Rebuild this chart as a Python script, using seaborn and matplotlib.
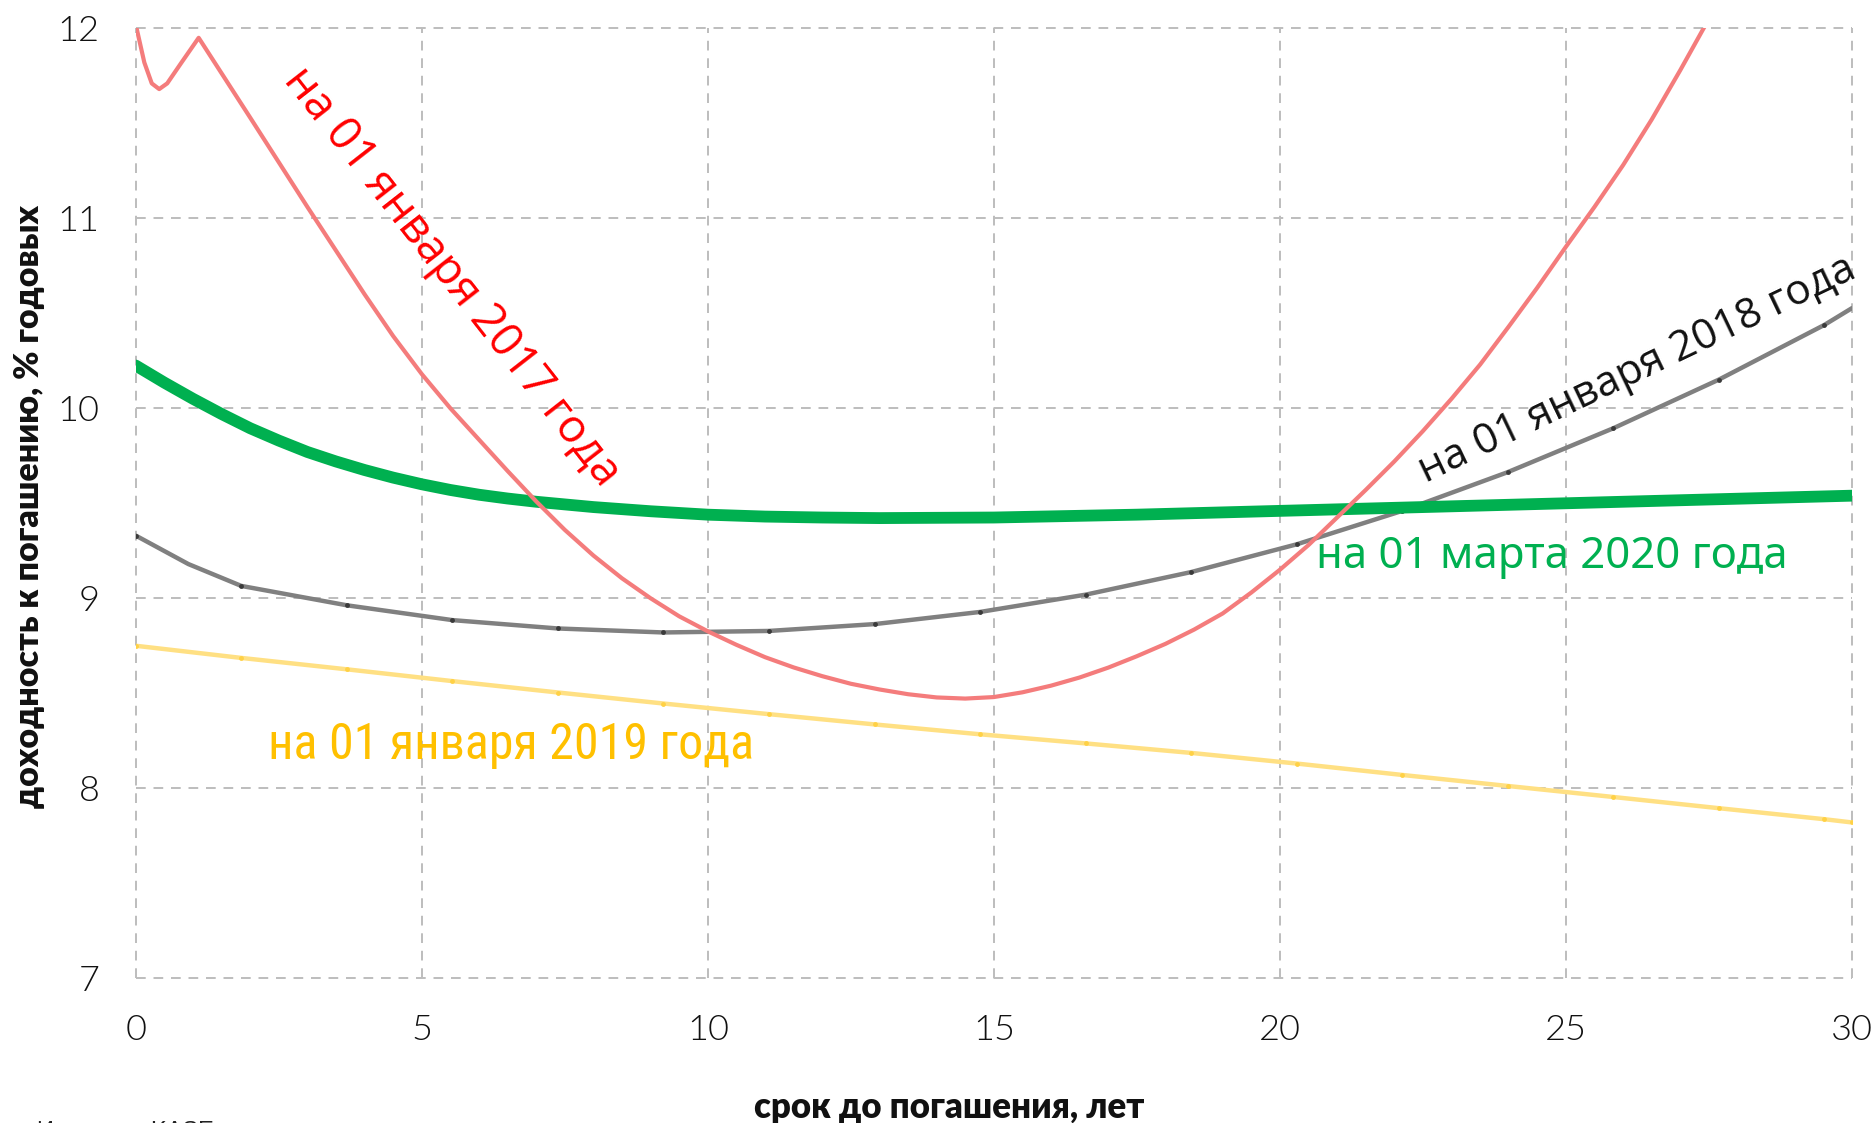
import matplotlib
matplotlib.use("Agg")
import matplotlib.pyplot as plt
from matplotlib import font_manager as fm
import seaborn as sns
import pandas as pd

# ---------------- data ----------------
red_x = [0, 0.15, 0.28, 0.41, 0.55, 0.8, 1.1, 2, 3, 4, 4.5, 5, 5.5, 6, 6.5, 7, 7.5, 8,
         8.5, 9, 9.5, 10, 10.5, 11, 11.5, 12, 12.5, 13, 13.5, 14, 14.5, 15, 15.5, 16,
         16.5, 17, 17.5, 18, 18.5, 19, 19.5, 20, 20.5, 21, 21.5, 22, 22.5, 23, 23.5,
         24, 24.5, 25, 25.5, 26, 26.5, 27, 27.5]
red_y = [12.02, 11.82, 11.71, 11.68, 11.71, 11.82, 11.95, 11.53, 11.06, 10.6, 10.38,
         10.18, 10.0, 9.835, 9.67, 9.51, 9.36, 9.225, 9.105, 9.0, 8.905, 8.826, 8.755,
         8.69, 8.636, 8.59, 8.55, 8.52, 8.495, 8.478, 8.472, 8.48, 8.505, 8.54, 8.583,
         8.635, 8.695, 8.76, 8.835, 8.92, 9.03, 9.15, 9.28, 9.425, 9.57, 9.72, 9.88,
         10.05, 10.23, 10.43, 10.635, 10.85, 11.06, 11.28, 11.52, 11.78, 12.05]

gray_x = [0, 0.92, 1.845, 3.69, 5.535, 7.38, 9.225, 11.07, 12.915, 14.76, 16.605,
          18.45, 20.295, 22.14, 23.985, 25.83, 27.675, 29.52, 30]
gray_y = [9.33, 9.18, 9.065, 8.963, 8.885, 8.841, 8.82, 8.828, 8.864, 8.928, 9.019,
          9.138, 9.284, 9.46, 9.664, 9.895, 10.151, 10.439, 10.527]

yellow_x = [0, 1.845, 3.69, 5.535, 7.38, 9.225, 11.07, 12.915, 14.76, 16.605, 18.45,
            20.295, 22.14, 23.985, 25.83, 27.675, 29.52, 30]
yellow_y = [8.75, 8.686, 8.626, 8.564, 8.504, 8.446, 8.39, 8.336, 8.284, 8.236, 8.186,
            8.13, 8.07, 8.012, 7.954, 7.895, 7.837, 7.82]

green_x = [0, 0.5, 1, 1.5, 2, 2.5, 3, 3.5, 4, 4.5, 5, 5.5, 6, 6.5, 7, 8, 9, 10, 11, 12,
           13, 15, 17.5, 20, 22.5, 25, 27.5, 30]
green_y = [10.225, 10.135, 10.05, 9.97, 9.895, 9.83, 9.77, 9.72, 9.675, 9.635, 9.60,
           9.57, 9.545, 9.525, 9.508, 9.48, 9.458, 9.44, 9.43, 9.425, 9.422, 9.425,
           9.44, 9.46, 9.48, 9.50, 9.52, 9.54]

x_ticks = [0, 5, 10, 15, 20, 25, 30]
y_ticks = [7, 8, 9, 10, 11, 12]

label_2017 = "на 01 января 2017 года"
label_2018 = "на 01 января 2018 года"
label_2019 = "на 01 января 2019 года"
label_2020 = "на 01 марта 2020 года"
x_title = "срок до погашения, лет"
y_title = "доходность к погашению, % годовых"
source_text = "Источник: KASE"


# ---------------- font helpers ----------------
def find_font(pred):
    for f in fm.fontManager.ttflist:
        try:
            if pred(f):
                return f.fname
        except Exception:
            pass
    return None


def light_font():
    for fam in ("Lato", "Roboto", "Open Sans", "Noto Sans"):
        p = find_font(lambda f: f.name == fam and f.weight == 300 and f.style == "normal")
        if p:
            return fm.FontProperties(fname=p)
    return fm.FontProperties(family="Lato")


def condensed_font():
    prefs = ["liberationsansnarrow-regular", "robotocondensed-regular",
             "opensans_condensed-regular", "opensanscondensed", "notosans-condensed.ttf",
             "notosans-condensedregular", "dejavusanscondensed.ttf"]
    allf = fm.fontManager.ttflist
    for key in prefs:
        for f in allf:
            b = f.fname.lower().replace(" ", "").split("/")[-1]
            if b.startswith(key) or b == key:
                return fm.FontProperties(fname=f.fname)
    for f in allf:
        b = f.fname.lower().split("/")[-1]
        if ("condensed" in b or "narrow" in b) and "bold" not in b and "italic" not in b \
                and "light" not in b and "thin" not in b and "mono" not in b \
                and "serif" not in b and "black" not in b and "medium" not in b \
                and "semi" not in b and "extra" not in b and "cjk" not in b:
            return fm.FontProperties(fname=f.fname)
    return fm.FontProperties(family="DejaVu Sans", stretch="condensed")


# ---------------- style ----------------
sns.set_theme(style="white")
plt.rcParams["font.family"] = ["Lato", "DejaVu Sans"]

fig = plt.figure(figsize=(18.75, 11.23), dpi=100)
ax = fig.add_axes([0.0724, 0.1289, 0.9153, 0.8459])

df_y = pd.DataFrame({"x": yellow_x, "y": yellow_y})
df_g = pd.DataFrame({"x": gray_x, "y": gray_y})
df_gr = pd.DataFrame({"x": green_x, "y": green_y})
df_r = pd.DataFrame({"x": red_x, "y": red_y})

sns.lineplot(data=df_y, x="x", y="y", ax=ax, color="#FFE083", linewidth=3.2,
             marker="o", markersize=3.5, markerfacecolor="#FFD145",
             markeredgewidth=0, estimator=None, sort=False, zorder=3)
gray_dots = [i for i in range(len(gray_x)) if gray_x[i] not in (0.92, 30)]
sns.lineplot(data=df_g, x="x", y="y", ax=ax, color="#808080", linewidth=3.2,
             marker="o", markersize=3.5, markerfacecolor="#3A3A3A",
             markeredgewidth=0, markevery=gray_dots, estimator=None, sort=False,
             zorder=4)
sns.lineplot(data=df_gr, x="x", y="y", ax=ax, color="#00B050", linewidth=8.5,
             estimator=None, sort=False, zorder=5)
sns.lineplot(data=df_r, x="x", y="y", ax=ax, color="#F47C7C", linewidth=3.0,
             estimator=None, sort=False, zorder=6)

ax.set_xlim(0, 30)
ax.set_ylim(7, 12)
ax.set_xticks(x_ticks)
ax.set_yticks(y_ticks)
ax.set_xticklabels([str(t) for t in x_ticks])
ax.set_yticklabels([str(t) for t in y_ticks])
tick_fp = light_font()
for lab in ax.get_xticklabels() + ax.get_yticklabels():
    lab.set_fontproperties(tick_fp)
    lab.set_fontsize(26)
    lab.set_color("#111111")
ax.tick_params(axis="x", length=0, pad=26)
ax.tick_params(axis="y", length=0, pad=26)
ax.grid(True, color="#BDBDBD", linestyle=(0, (5, 4)), linewidth=1.4)
for s in ax.spines.values():
    s.set_visible(False)
for gl in ax.get_xgridlines() + ax.get_ygridlines():
    gl.set_clip_on(False)

ax.set_xlabel("")
ax.set_ylabel("")
fig.text(0.506, 1 - 1108 / 1123, x_title, ha="center", va="center",
         fontsize=25, fontweight="heavy", color="#111111")
fig.text(29 / 1875, 1 - 507 / 1123, y_title, ha="center", va="center",
         rotation=90, fontsize=24.5, fontweight="heavy", color="#111111")

ax.text(5.53, 10.69, label_2017, color="#FF0000", fontsize=33, rotation=-52,
        rotation_mode="anchor", ha="center", va="center",
        family=["Open Sans", "DejaVu Sans"], zorder=7)
ax.text(26.25, 10.20, label_2018, color="#111111", fontsize=30.5, rotation=25.5,
        rotation_mode="anchor", ha="center", va="center",
        family=["Open Sans", "DejaVu Sans"], zorder=7)
ax.text(24.76, 9.218, label_2020, color="#00B050", fontsize=31.5,
        ha="center", va="center", family=["Noto Sans", "DejaVu Sans"],
        fontweight="medium", zorder=7)
yfp = condensed_font()
yfp.set_size(36)
ax.text(6.56, 8.227, label_2019, color="#FFC000", fontproperties=yfp,
        ha="center", va="center", zorder=7)

fig.text(37 / 1875, 1 - 1121 / 1123, source_text, ha="left", va="top",
         fontsize=17, color="#222222", family=["Liberation Sans", "DejaVu Sans"])

fig.savefig("out.png", dpi=100, facecolor="white")
